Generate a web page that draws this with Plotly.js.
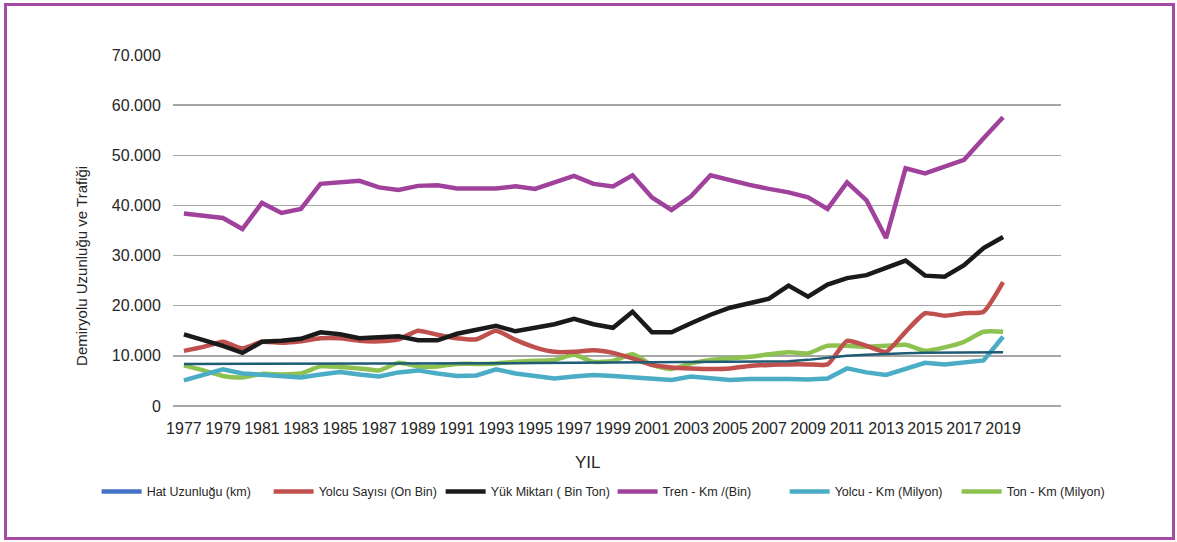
<!DOCTYPE html>
<html>
<head>
<meta charset="utf-8">
<script src="https://cdn.plot.ly/plotly-3.0.1.min.js"></script>
<style>
  body { margin: 0; background: #fff; }
  #wrap { position: relative; width: 1177px; height: 542px; }
  #chart { width: 1177px; height: 542px; }
  #frame { position: absolute; left: 4px; top: 3px; width: 1165px; height: 531px; border: 3px solid #a54ba5; pointer-events: none; }
</style>
</head>
<body>
<div id="wrap">
  <div id="chart"></div>
  <div id="frame"></div>
</div>
<script>
const years = [1977, 1978, 1979, 1980, 1981, 1982, 1983, 1984, 1985, 1986, 1987, 1988, 1989, 1990,
  1991, 1992, 1993, 1994, 1995, 1996, 1997, 1998, 1999, 2000, 2001, 2002, 2003, 2004, 2005, 2006,
  2007, 2008, 2009, 2010, 2011, 2012, 2013, 2014, 2015, 2016, 2017, 2018, 2019];

const tickYears = [1977, 1979, 1981, 1983, 1985, 1987, 1989, 1991, 1993, 1995, 1997, 1999, 2001,
  2003, 2005, 2007, 2009, 2011, 2013, 2015, 2017, 2019];

const hatUzunlugu = [8400, 8400, 8400, 8400, 8400, 8400, 8400, 8400, 8420, 8430, 8440, 8450, 8460, 8480,
  8500, 8520, 8540, 8550, 8570, 8590, 8600, 8620, 8640, 8670, 8680, 8690, 8700, 8700, 8720, 8730,
  8750, 8900, 9200, 9600, 10000, 10200, 10400, 10500, 10600, 10600, 10650, 10650, 10700];

const yolcuSayisi = [11000, 11800, 12800, 11500, 12800, 12600, 12900, 13500, 13500, 13000, 12900, 13300, 15000, 14200,
  13500, 13300, 15000, 13200, 11700, 10800, 10800, 11100, 10600, 9500, 8200, 7700, 7500, 7400, 7500, 8000,
  8200, 8300, 8300, 8300, 13000, 12000, 10800, 14800, 18500, 18000, 18500, 18800, 24700];

const yukMiktari = [14300, 13200, 12000, 10600, 12800, 13000, 13400, 14700, 14300, 13500, 13800, 13900, 13100, 13100,
  14400, 15300, 16000, 14900, 15500, 16300, 17400, 16300, 15600, 18800, 14700, 14700, 16500, 18200, 19600, 20600,
  21400, 24000, 21800, 24200, 25500, 26100, 27500, 29000, 26000, 25800, 28100, 31500, 33700];

const trenKm = [38400, 38000, 37500, 35300, 40500, 38500, 39300, 44300, 44700, 44900, 43600, 43100, 43900, 44000,
  43400, 43400, 43400, 43800, 43300, 44600, 45900, 44300, 43800, 46000, 41600, 39100, 41800, 46000, 45000, 44100,
  43300, 42600, 41600, 39300, 44600, 41000, 33500, 47400, 46400, 47800, 49100, 53400, 57600];

const yolcuKm = [5100, 6200, 7300, 6500, 6200, 5900, 5700, 6300, 6800, 6300, 5900, 6700, 7100, 6500,
  6000, 6100, 7300, 6500, 5900, 5500, 5900, 6200, 6000, 5800, 5500, 5200, 5900, 5500, 5200, 5400,
  5500, 5400, 5300, 5500, 7500, 6700, 6200, 7400, 8600, 8300, 8600, 9100, 13800];

const tonKm = [8100, 7100, 6000, 5700, 6400, 6300, 6500, 7900, 7800, 7500, 7100, 8600, 7900, 7900,
  8400, 8400, 8500, 8800, 9000, 9200, 10200, 8800, 9000, 10300, 8200, 7400, 8500, 9200, 9500, 9800,
  10300, 10700, 10500, 12000, 12000, 11800, 12000, 12200, 11000, 11700, 12800, 14800, 14800];

const FONT = "'Liberation Sans', Arial, sans-serif";

const traces = [
  { name: 'Ton - Km (Milyon)', x: years, y: tonKm, line: { color: '#8dc150', width: 4.5, shape: 'spline', smoothing: 0.6 }, legendrank: 6 },
  { name: 'Yolcu - Km (Milyon)', x: years, y: yolcuKm, line: { color: '#4bacc6', width: 4.5 }, legendrank: 5 },
  { name: 'Yolcu Sayısı (On Bin)', x: years, y: yolcuSayisi, line: { color: '#c0504d', width: 4.5, shape: 'spline', smoothing: 0.5 }, legendrank: 2 },
  { name: 'Yük Miktarı ( Bin Ton)', x: years, y: yukMiktari, line: { color: '#1a1a1a', width: 4.5 }, legendrank: 3 },
  { name: 'Tren - Km /(Bin)', x: years, y: trenKm, line: { color: '#a0429c', width: 4.5 }, legendrank: 4 },
  { name: 'Hat Uzunluğu (km)', x: years, y: hatUzunlugu, line: { color: '#1f5b74', width: 2.5 }, showlegend: false },
  // legend entry for the line length series uses the lighter blue seen in the key
  { name: 'Hat Uzunluğu (km)', x: [null], y: [null], line: { color: '#4472c4', width: 4.5 }, legendrank: 1 }
].map((t) => ({ type: 'scatter', mode: 'lines', hoverinfo: 'skip', ...t }));

const layout = {
  width: 1177,
  height: 542,
  paper_bgcolor: '#ffffff',
  plot_bgcolor: '#ffffff',
  separators: ',.',
  margin: { l: 173, r: 116, t: 55, b: 136 },
  font: { family: FONT, color: '#262626', size: 16 },
  showlegend: true,
  xaxis: {
    type: 'linear',
    range: [1976.44, 2021.97],
    tickvals: tickYears,
    ticktext: tickYears.map(String),
    tickangle: 0,
    showgrid: false,
    zeroline: false,
    showline: false,
    ticks: 'outside',
    ticklen: 8,
    tickcolor: 'rgba(0,0,0,0)',
    tickfont: { size: 16 }
  },
  yaxis: {
    range: [0, 70000],
    dtick: 10000,
    tickformat: ',d',
    showgrid: true,
    gridcolor: '#a6a6a6',
    gridwidth: 1.5,
    zeroline: true,
    zerolinecolor: '#a6a6a6',
    zerolinewidth: 1.5,
    ticks: 'outside',
    ticklen: 8,
    tickcolor: 'rgba(0,0,0,0)',
    tickfont: { size: 16 }
  },
  legend: {
    orientation: 'h',
    x: -0.086,
    xanchor: 'left',
    y: -0.245,
    yanchor: 'middle',
    font: { size: 12.5 },
    traceorder: 'normal',
    itemwidth: 40,
    entrywidth: 117,
    entrywidthmode: 'pixels'
  },
  annotations: [
    {
      text: 'YIL', xref: 'paper', yref: 'paper', x: 0.467, y: -0.162,
      xanchor: 'center', yanchor: 'middle', showarrow: false, font: { size: 17 }
    },
    {
      text: 'Demiryolu Uzunluğu ve Trafiği', xref: 'paper', yref: 'paper', x: -0.1025, y: 0.399,
      xanchor: 'center', yanchor: 'middle', textangle: -90, showarrow: false, font: { size: 15 }
    }
  ]
};

Plotly.newPlot('chart', traces, layout, { displayModeBar: false, staticPlot: true });
</script>
</body>
</html>
